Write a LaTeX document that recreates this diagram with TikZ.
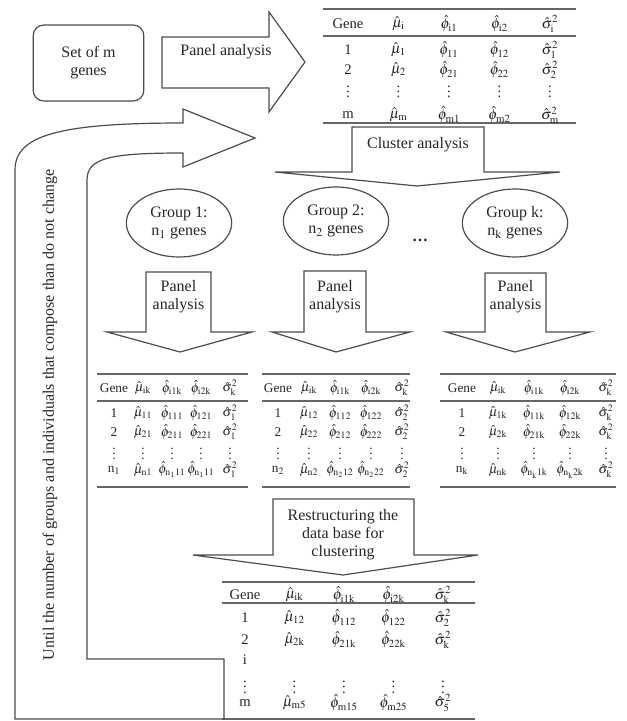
\documentclass[tikz,border=0pt]{standalone}
\usepackage{mathptmx}
\usepackage{fontspec}
\setmainfont{Liberation Serif}
\usetikzlibrary{shapes.geometric}

\begin{document}
\begin{tikzpicture}[
    x=0.75pt,y=-0.75pt,
    line width=0.9pt,
    ink/.style={draw=black!70},
    txt/.style={text=black!85,font=\fontsize{12}{13.5}\selectfont,align=center,inner sep=1pt},
    cell/.style={text=black!85,font=\fontsize{11}{13}\selectfont,inner sep=0pt},
    scell/.style={cell,font=\fontsize{10}{12}\selectfont},
    rule/.style={draw=black!60,line width=1pt},
    grp/.style={ellipse,ink,minimum width=79pt,minimum height=51pt,txt},
    genes/.style={ink,rounded corners=8pt,minimum width=83pt,minimum height=57pt,txt}
  ]
  \path[use as bounding box] (0,0) rectangle (627,721);
  % Start set and first panel analysis.
  \node[genes] (set) at (88.5,63) {Set of m\\genes};
  \draw[ink] (162,37) -- (269,37) -- (269,12) -- (305,62) -- (269,112) -- (269,88) -- (162,88) -- cycle;
  \node[txt] (pa0) at (226,52) {Panel analysis};
  % Table of all genes.
  \draw[rule] (323,9) -- (576,9) (323,36) -- (576,36) (323,123) -- (576,123);
  \foreach \y/\row in {
      24/{Gene,$\hat\mu_{\mathrm{i}}$,$\hat\phi_{\mathrm{i1}}$,$\hat\phi_{\mathrm{i2}}$,$\hat\sigma^2_{\mathrm{i}}$},
      50/{1,$\hat\mu_1$,$\hat\phi_{11}$,$\hat\phi_{12}$,$\hat\sigma^2_1$},
      70/{2,$\hat\mu_2$,$\hat\phi_{21}$,$\hat\phi_{22}$,$\hat\sigma^2_2$},
      88/{$\vdots$,$\vdots$,$\vdots$,$\vdots$,$\vdots$},
      115/{m,$\hat\mu_{\mathrm{m}}$,$\hat\phi_{\mathrm{m1}}$,$\hat\phi_{\mathrm{m2}}$,$\hat\sigma^2_{\mathrm{m}}$}}
    \foreach \e [count=\c] in \row
      \node[cell] (t0-\y-\c) at (297.5+50.5*\c,\y) {\e};
  % Clustering.
  \draw[ink] (352,127) -- (484,127) -- (484,172) -- (560,172) -- (417,186) -- (275,172) -- (352,172) -- cycle;
  \node[txt] (ca) at (418,145) {Cluster analysis};
  \node[grp] (g1) at (179,223) {Group 1:\\n$_1$ genes};
  \node[grp] (g2) at (336,221) {Group 2:\\n$_2$ genes};
  \node[txt] (gdots) at (420,240) {\textbf{\dots}};
  \node[grp] (gk) at (515,223) {Group k:\\n$_{\mathrm{k}}$ genes};
  % Panel analysis per group.
  \foreach \n/\sl/\sr/\st/\hl/\hr/\tip in {1/146/211/272/107/252/180, 2/304/366/271/272/410/336, 3/485/546/273/446/590/515} {
    \draw[ink] (\sl,\st) -- (\sr,\st) -- (\sr,332) -- (\hr,332) -- (\tip,352) -- (\hl,332) -- (\sl,332) -- cycle;
    \node[txt] (pa\n) at ({(\sl+\sr)/2},297) {Panel\\analysis};
  }
  % Group tables.
  \draw[rule] (97,374) -- (248,374) (97,401) -- (248,401) (97,487) -- (248,487);
  \foreach \y/\row in {
      388/{Gene,$\hat\mu_{\mathrm{ik}}$,$\hat\phi_{\mathrm{i1k}}$,$\hat\phi_{\mathrm{i2k}}$,$\hat\sigma^2_{\mathrm{k}}$},
      413/{1,$\hat\mu_{11}$,$\hat\phi_{111}$,$\hat\phi_{121}$,$\hat\sigma^2_1$},
      432/{2,$\hat\mu_{21}$,$\hat\phi_{211}$,$\hat\phi_{221}$,$\hat\sigma^2_1$},
      450/{$\vdots$,$\vdots$,$\vdots$,$\vdots$,$\vdots$},
      470/{n$_1$,$\hat\mu_{\mathrm{n1}}$,$\hat\phi_{\mathrm{n_111}}$,$\hat\phi_{\mathrm{n_111}}$,$\hat\sigma^2_1$}}
    \foreach \e [count=\c] in \row
      \node[scell] (t1-\y-\c) at (85+29*\c,\y) {\e};
  \draw[rule] (262,374) -- (410,374) (262,401) -- (410,401) (262,487) -- (410,487);
  \foreach \y/\row in {
      388/{Gene,$\hat\mu_{\mathrm{ik}}$,$\hat\phi_{\mathrm{i1k}}$,$\hat\phi_{\mathrm{i2k}}$,$\hat\sigma^2_{\mathrm{k}}$},
      413/{1,$\hat\mu_{12}$,$\hat\phi_{112}$,$\hat\phi_{122}$,$\hat\sigma^2_2$},
      432/{2,$\hat\mu_{22}$,$\hat\phi_{212}$,$\hat\phi_{222}$,$\hat\sigma^2_2$},
      450/{$\vdots$,$\vdots$,$\vdots$,$\vdots$,$\vdots$},
      470/{n$_2$,$\hat\mu_{\mathrm{n2}}$,$\hat\phi_{\mathrm{n_212}}$,$\hat\phi_{\mathrm{n_222}}$,$\hat\sigma^2_2$}}
    \foreach \e [count=\c] in \row
      \node[scell] (t2-\y-\c) at (247+31*\c,\y) {\e};
  \draw[rule] (440,374) -- (616,374) (440,401) -- (616,401) (440,487) -- (616,487);
  \foreach \y/\row in {
      388/{Gene,$\hat\mu_{\mathrm{ik}}$,$\hat\phi_{\mathrm{i1k}}$,$\hat\phi_{\mathrm{i2k}}$,$\hat\sigma^2_{\mathrm{k}}$},
      413/{1,$\hat\mu_{\mathrm{1k}}$,$\hat\phi_{\mathrm{11k}}$,$\hat\phi_{\mathrm{12k}}$,$\hat\sigma^2_{\mathrm{k}}$},
      432/{2,$\hat\mu_{\mathrm{2k}}$,$\hat\phi_{\mathrm{21k}}$,$\hat\phi_{\mathrm{22k}}$,$\hat\sigma^2_{\mathrm{k}}$},
      450/{$\vdots$,$\vdots$,$\vdots$,$\vdots$,$\vdots$},
      470/{n$_{\mathrm{k}}$,$\hat\mu_{\mathrm{nk}}$,$\hat\phi_{\mathrm{n_k1k}}$,$\hat\phi_{\mathrm{n_k2k}}$,$\hat\sigma^2_{\mathrm{k}}$}}
    \foreach \e [count=\c] in \row
      \node[scell] (t3-\y-\c) at (426+36*\c,\y) {\e};
  % Restructuring.
  \draw[ink] (273,499) -- (414,499) -- (414,555) -- (478,555) -- (343,575) -- (193,555) -- (273,555) -- cycle;
  \node[txt] (rs) at (343,535) {Restructuring the\\data base for\\clustering};
  % Restructured table.
  \draw[rule] (222,582) -- (475,582) (222,603) -- (475,603) (222,719) -- (475,719);
  \foreach \y/\row in {
      595/{Gene,$\hat\mu_{\mathrm{ik}}$,$\hat\phi_{\mathrm{i1k}}$,$\hat\phi_{\mathrm{i2k}}$,$\hat\sigma^2_{\mathrm{k}}$},
      618/{1,$\hat\mu_{12}$,$\hat\phi_{112}$,$\hat\phi_{122}$,$\hat\sigma^2_2$},
      640/{2,$\hat\mu_{\mathrm{2k}}$,$\hat\phi_{\mathrm{21k}}$,$\hat\phi_{\mathrm{22k}}$,$\hat\sigma^2_{\mathrm{k}}$},
      660/{i},
      683/{$\vdots$,$\vdots$,$\vdots$,$\vdots$,$\vdots$},
      703/{m,$\hat\mu_{\mathrm{m5}}$,$\hat\phi_{\mathrm{m15}}$,$\hat\phi_{\mathrm{m25}}$,$\hat\sigma^2_5$}}
    \foreach \e [count=\c] in \row
      \node[cell] (t4-\y-\c) at (195.5+49.5*\c,\y) {\e};
  % Loop back.
  \draw[ink] (15,719) -- (224,719) -- (224,659) -- (87,659) -- (87,180)
    .. controls (87,158) and (110,153) .. (183,153) -- (183,167) -- (255,138) -- (183,109) -- (183,123)
    .. controls (60,123) and (15,135) .. (15,170) -- cycle;
  \node[txt,rotate=90] (loop) at (50,415) {Until the number of groups and individuals that compose than do not change};
\end{tikzpicture}
\end{document}
